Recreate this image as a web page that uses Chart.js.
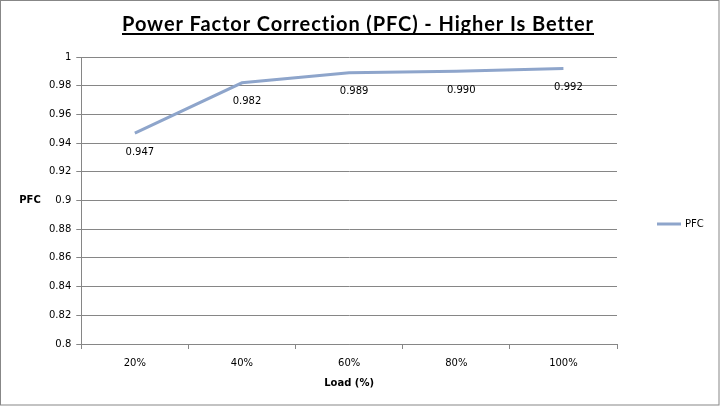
<!DOCTYPE html>
<html>
<head>
<meta charset="utf-8">
<script src="https://cdn.jsdelivr.net/npm/chart.js@4"></script>
<style>
  html, body { margin: 0; padding: 0; background: #fff; }
  #wrap { width: 720px; height: 406px; }
</style>
</head>
<body>
<div id="wrap"><canvas id="c" width="720" height="406"></canvas></div>
<script>
const loadLabels = ['20%', '40%', '60%', '80%', '100%'];
const pfcValues = [0.947, 0.982, 0.989, 0.990, 0.992];
const pfcText = ['0.947', '0.982', '0.989', '0.990', '0.992'];
const yMin = 0.8;
const yMax = 1;
const yStep = 0.02;
const chartTitle = 'Power Factor Correction (PFC) - Higher Is Better';

const lineColor = '#8EA5CB';
const tickFont = { family: 'DejaVu Sans', size: 10 };

// title with underline, horizontal y title, point labels, legend, border
const extras = {
  id: 'extras',
  afterDraw(chart) {
    const ctx = chart.ctx;
    ctx.save();

    // outer border
    ctx.strokeStyle = '#878787';
    ctx.lineWidth = 1;
    ctx.strokeRect(0.5, 0.5, chart.width - 1.5, chart.height - 1.5);

    // title + underline
    ctx.font = 'bold 20px Lato';
    if ('letterSpacing' in ctx) ctx.letterSpacing = '0.9px';
    const w = ctx.measureText(chartTitle).width;
    const cx = 358;
    ctx.fillStyle = '#000';
    ctx.textAlign = 'left';
    ctx.textBaseline = 'alphabetic';
    ctx.fillText(chartTitle, cx - w / 2, 31);
    ctx.fillRect(Math.round(cx - w / 2), 33, Math.round(w), 2);
    if ('letterSpacing' in ctx) ctx.letterSpacing = '0px';

    // y axis title, horizontal
    const y = chart.scales.y;
    ctx.font = 'bold 10px "DejaVu Sans"';
    ctx.textAlign = 'center';
    ctx.textBaseline = 'middle';
    ctx.fillText('PFC', 30, y.getPixelForValue(0.9));

    // data labels below points
    ctx.font = '10px "DejaVu Sans"';
    const meta = chart.getDatasetMeta(0);
    meta.data.forEach((pt, i) => {
      ctx.fillText(pfcText[i], pt.x + 5, pt.y + 19);
    });

    // legend
    const ly = 224;
    ctx.strokeStyle = lineColor;
    ctx.lineWidth = 3;
    ctx.beginPath();
    ctx.moveTo(657, ly);
    ctx.lineTo(681, ly);
    ctx.stroke();
    ctx.textAlign = 'left';
    ctx.fillText(chart.data.datasets[0].label, 685, ly);
    ctx.restore();
  }
};

new Chart(document.getElementById('c'), {
  type: 'line',
  data: {
    labels: loadLabels,
    datasets: [{
      label: 'PFC',
      data: pfcValues,
      borderColor: lineColor,
      backgroundColor: lineColor,
      borderWidth: 3,
      pointRadius: 0,
      tension: 0,
    }],
  },
  options: {
    animation: false,
    responsive: false,
    devicePixelRatio: 1,
    layout: { padding: { left: 44, right: 103, top: 57, bottom: 13 } },
    plugins: {
      title: { display: false },
      legend: { display: false },
      tooltip: { enabled: false },
    },
    scales: {
      x: {
        offset: true,
        grid: {
          offset: true,
          drawOnChartArea: false,
          color: '#868686',
          tickLength: 5,
        },
        border: { color: '#868686' },
        ticks: { color: '#000', font: tickFont, padding: 8 },
        title: {
          display: true,
          text: 'Load (%)',
          color: '#000',
          font: { family: 'DejaVu Sans', size: 10, weight: 'bold' },
          padding: { top: 0 },
        },
      },
      y: {
        min: yMin,
        max: yMax,
        grid: { color: '#868686', tickLength: 5 },
        border: { color: '#868686' },
        ticks: {
          stepSize: yStep,
          color: '#000',
          font: tickFont,
          padding: 5,
          callback: (v) => String(+v.toFixed(2)),
        },
      },
    },
  },
  plugins: [extras],
});
</script>
</body>
</html>
